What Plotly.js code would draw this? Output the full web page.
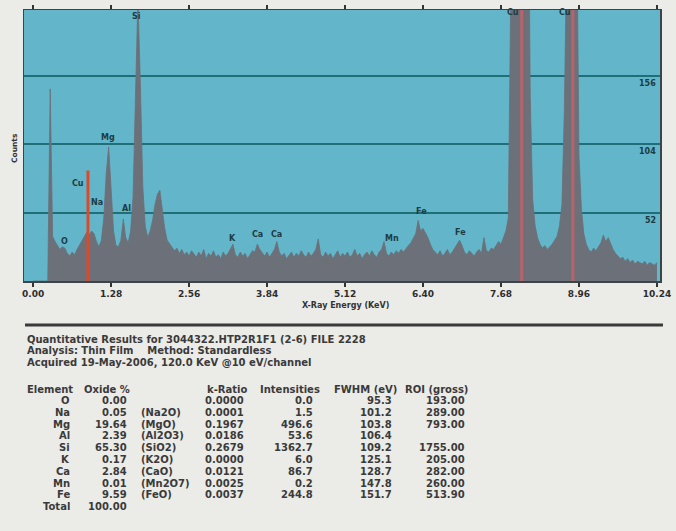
<!DOCTYPE html>
<html>
<head>
<meta charset="utf-8">
<script src="https://cdn.plot.ly/plotly-3.0.1.min.js"></script>
<style>
html,body{margin:0;padding:0;background:#ebebe8;}
#chart{width:676px;height:531px;}
</style>
</head>
<body>
<div id="chart"></div>
<script>
// ---------- DATA ----------
const channelWidthKeV = 0.04;
// counts per 0.04 keV channel, 0.00 .. 10.24 keV
const counts = [
  0,0,0,0,0,0,0,146,34,30,
  27,24,26,25,21,19,22,20,24,27,
  30,34,37,35,38,36,30,26,31,48,
  82,102,68,38,27,26,31,47,33,29,
  38,64,140,215,150,72,42,33,38,46,
  58,66,69,54,40,31,28,26,23,25,
  21,24,20,22,19,23,20,18,22,19,
  24,17,21,19,23,18,20,17,22,19,
  21,25,28,20,18,22,19,21,17,20,
  23,22,28,24,21,19,22,18,21,24,
  30,22,19,21,17,20,22,18,21,19,
  23,20,18,22,19,21,24,32,20,18,
  22,19,21,17,20,23,18,21,19,22,
  18,20,24,19,21,17,20,22,19,23,
  20,18,22,24,30,21,19,22,20,23,
  21,24,22,25,27,29,33,36,46,38,
  40,37,33,28,24,22,20,23,19,21,
  24,20,22,25,28,31,27,22,20,23,
  21,19,22,24,21,33,23,22,25,24,
  27,30,28,33,38,48,220,600,900,1000,
  1000,950,700,380,140,62,42,33,28,25,
  27,24,26,28,31,34,42,58,130,330,
  500,520,480,300,95,55,36,28,24,22,
  25,23,26,29,35,30,33,28,24,21,
  19,17,18,15,17,14,16,13,15,14,
  13,15,12,14,13,12,14
];

// ROI marker lines (keV, height in counts)
const roiCuLEnergy = [0.90];
const roiCuLHeight = [84];
const roiCuKEnergies = [8.02, 8.86];
const roiCuKHeights = [1000, 1000];

// peak labels
const peakLabels  = ["O","Cu","Na","Mg","Al","Si","K","Ca","Ca","Mn","Fe","Fe","Cu","Cu"];
const peakLabelE  = [0.52,0.74,1.05,1.23,1.53,1.69,3.28,3.68,4.00,5.89,6.38,7.02,7.88,8.73];
const peakLabelCt = [30,74,60,109,55,201,32,35,35,32,53,37,204,204];

// axes
const xTickVals   = [0,1.28,2.56,3.84,5.12,6.40,7.68,8.96,10.24];
const xTickLabels = ["0.00","1.28","2.56","3.84","5.12","6.40","7.68","8.96","10.24"];
const yTickVals   = [52,104,156];
const yTickLabels = ["52","104","156"];

// quantitation table
const headerLines = [
  "Quantitative Results for 3044322.HTP2R1F1 (2-6) FILE 2228",
  "Analysis: Thin Film    Method: Standardless",
  "Acquired 19-May-2006, 120.0 KeV @10 eV/channel"
];
const colHeaders = ["Element","Oxide %","k-Ratio","Intensities","FWHM (eV)","ROI (gross)"];
const elements    = ["O","Na","Mg","Al","Si","K","Ca","Mn","Fe","Total"];
const oxidePct    = ["0.00","0.05","19.64","2.39","65.30","0.17","2.84","0.01","9.59","100.00"];
const oxideFormula= ["","(Na2O)","(MgO)","(Al2O3)","(SiO2)","(K2O)","(CaO)","(Mn2O7)","(FeO)",""];
const kRatio      = ["0.0000","0.0001","0.1967","0.0186","0.2679","0.0000","0.0121","0.0025","0.0037",""];
const intensities = ["0.0","1.5","496.6","53.6","1362.7","6.0","86.7","0.2","244.8",""];
const fwhm        = ["95.3","101.2","103.8","106.4","109.2","125.1","128.7","147.8","151.7",""];
const roiGross    = ["193.00","289.00","793.00","","1755.00","205.00","282.00","260.00","513.90",""];

// ---------- LAYOUT HELPERS ----------
const W = 676, H = 531;
const M = {l:24, r:16, t:10, b:250};
const PW = W - M.l - M.r, PH = H - M.t - M.b;
const px = x => (x - M.l) / PW;          // pixel -> paper x
const py = y => (M.t + PH - y) / PH;      // pixel -> paper y

const energies = counts.map((_, i) => +(i * channelWidthKeV).toFixed(2));

const traces = [
  {
    x: energies, y: counts, type: 'scatter', mode: 'lines',
    line: {color: '#6b7079', width: 0.8, shape: 'linear'},
    fill: 'tozeroy', fillcolor: '#6b7079', hoverinfo: 'skip'
  },
  {
    x: [roiCuLEnergy[0], roiCuLEnergy[0]], y: [0, roiCuLHeight[0]],
    type: 'scatter', mode: 'lines', line: {color: '#dc4a2c', width: 3}, hoverinfo: 'skip'
  },
  {
    x: [roiCuKEnergies[0], roiCuKEnergies[0], null, roiCuKEnergies[1], roiCuKEnergies[1]],
    y: [0, roiCuKHeights[0], null, 0, roiCuKHeights[1]],
    type: 'scatter', mode: 'lines', line: {color: '#b8646a', width: 3}, hoverinfo: 'skip'
  }
];

const annotations = [];
const txtFont = {family: 'DejaVu Sans', size: 10, color: '#3a3a3a', weight: 'bold'};

// peak labels
peakLabels.forEach((t, i) => annotations.push({
  x: peakLabelE[i], y: peakLabelCt[i], xref: 'x', yref: 'y', text: t, showarrow: false,
  font: {family: 'DejaVu Sans', size: 8, color: '#1d3b42', weight: 'bold'}, xanchor: 'center', yanchor: 'middle'
}));

// y tick labels, drawn inside the plot just below each gridline
yTickVals.forEach((v, i) => annotations.push({
  x: 1, y: v, xref: 'paper', yref: 'y', text: yTickLabels[i], showarrow: false,
  xanchor: 'right', yanchor: 'top', xshift: -2, yshift: -1,
  font: {family: 'DejaVu Sans', size: 8, color: '#1d3b42', weight: 'bold'}
}));

// y-axis title
annotations.push({x: px(14), y: py(148), xref: 'paper', yref: 'paper', text: 'Counts',
  textangle: -90, showarrow: false, font: {family: 'DejaVu Sans', size: 7.5, color: '#333', weight: 'bold'},
  xanchor: 'center', yanchor: 'middle'});

// x-axis title
annotations.push({x: px(345), y: py(305), xref: 'paper', yref: 'paper', text: 'X-Ray Energy (KeV)',
  showarrow: false, font: {family: 'DejaVu Sans', size: 8, color: '#333', weight: 'bold'},
  xanchor: 'center', yanchor: 'middle'});

// header text lines
headerLines.forEach((t, i) => annotations.push({
  x: px(25), y: py(339 + i * 11.5), xref: 'paper', yref: 'paper', text: t, showarrow: false,
  font: txtFont, xanchor: 'left', yanchor: 'middle'
}));

// column headers
const headerX = [25, 82, 205, 258, 332, 403];
colHeaders.forEach((t, i) => annotations.push({
  x: px(headerX[i]), y: py(389), xref: 'paper', yref: 'paper', text: t, showarrow: false,
  font: txtFont, xanchor: 'left', yanchor: 'middle'
}));

// table rows
const rowY0 = 400.5, rowStep = 11.8;
const cols = [
  {data: elements, x: 72, anchor: 'right'},
  {data: oxidePct, x: 129, anchor: 'right'},
  {data: oxideFormula, x: 139, anchor: 'left'},
  {data: kRatio, x: 246, anchor: 'right'},
  {data: intensities, x: 315, anchor: 'right'},
  {data: fwhm, x: 394, anchor: 'right'},
  {data: roiGross, x: 467, anchor: 'right'}
];
cols.forEach(c => c.data.forEach((t, r) => {
  if (!t) return;
  annotations.push({x: px(c.x), y: py(rowY0 + r * rowStep), xref: 'paper', yref: 'paper',
    text: t, showarrow: false, font: txtFont, xanchor: c.anchor, yanchor: 'middle'});
}));

const layout = {
  width: W, height: H,
  margin: M,
  paper_bgcolor: '#ebebe8',
  plot_bgcolor: '#63b6ca',
  showlegend: false,
  xaxis: {
    range: [-0.15, 10.29], tickvals: xTickVals, ticktext: xTickLabels,
    ticks: 'outside', ticklen: 4, tickwidth: 1.5, tickcolor: '#333',
    showline: true, linecolor: '#3d4447', linewidth: 1.5, mirror: 'ticks',
    showgrid: false, zeroline: false, ticklabeloverflow: 'allow',
    tickfont: {family: 'DejaVu Sans', size: 9, color: '#2e2e2e', weight: 'bold'}
  },
  yaxis: {
    range: [0, 206], tickvals: yTickVals, showticklabels: false,
    side: 'right', ticks: '',
    showline: true, linecolor: '#3d4447', linewidth: 1.5, mirror: true,
    showgrid: true, gridcolor: '#1f6e78', gridwidth: 2, zeroline: false
  },
  shapes: [
    {type: 'line', xref: 'paper', yref: 'paper', x0: px(25), x1: px(663), y0: py(325), y1: py(325),
     line: {color: '#3a3a3a', width: 3}}
  ],
  annotations: annotations
};

Plotly.newPlot('chart', traces, layout, {displayModeBar: false, staticPlot: true});
</script>
</body>
</html>
